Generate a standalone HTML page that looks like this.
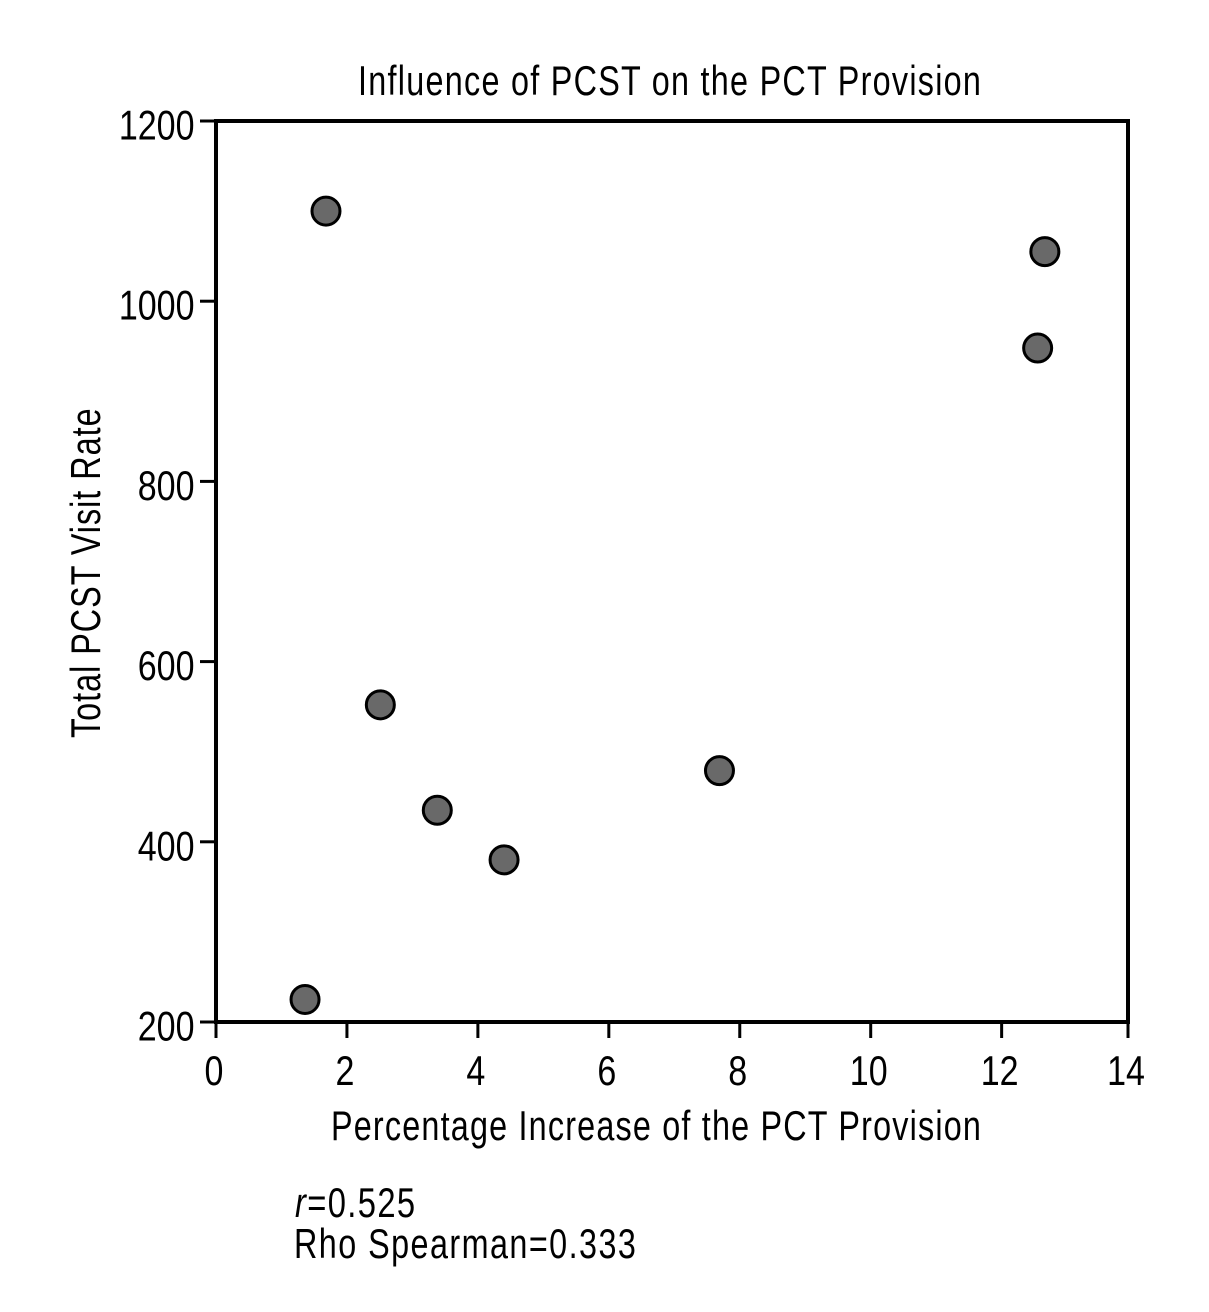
<!DOCTYPE html>
<html lang="en">
<head>
<meta charset="utf-8">
<title>Influence of PCST on the PCT Provision</title>
<style>
html,body{margin:0;padding:0;background:#fff;width:1209px;height:1312px;overflow:hidden}
svg{display:block}
text{font-family:"Liberation Sans",Arial,sans-serif;font-size:42px;fill:#000}
</style>
</head>
<body>
<svg id="chart" width="1209" height="1312" viewBox="0 0 1209 1312" xmlns="http://www.w3.org/2000/svg">
  <rect x="0" y="0" width="1209" height="1312" fill="#ffffff"/>
  <text transform="translate(358,95) scale(.77,1)" textLength="809" lengthAdjust="spacing">Influence of PCST on the PCT Provision</text>
  <rect x="216" y="121" width="912" height="901" fill="none" stroke="#000" stroke-width="4"/>
  <g id="y-ticks"></g>
  <g id="x-ticks"></g>
  <g id="points"></g>
  <text transform="translate(331,1140) scale(.77,1)" textLength="844" lengthAdjust="spacing">Percentage Increase of the PCT Provision</text>
  <text transform="translate(100,738) rotate(-90) scale(.77,1)" textLength="428" lengthAdjust="spacing">Total PCST Visit Rate</text>
  <text transform="translate(295,1217) scale(.78,1)" textLength="154" lengthAdjust="spacing"><tspan font-style="italic">r</tspan>=0.525</text>
  <text transform="translate(294,1258) scale(.77,1)" textLength="444" lengthAdjust="spacing">Rho Spearman=0.333</text>
</svg>
<script>
const xTickValues = [0, 2, 4, 6, 8, 10, 12, 14];
const yTickValues = [200, 400, 600, 800, 1000, 1200];
const xValues = [1.36, 1.68, 2.51, 3.38, 4.40, 7.69, 12.55, 12.66];
const yValues = [225, 1100, 552, 435, 380, 479, 948, 1055];

const NS = 'http://www.w3.org/2000/svg';
const plotLeft = 216, plotRight = 1128, plotTop = 121, plotBottom = 1022;
const yMin = 200, yMax = 1200;
const CONDENSE = 0.81;

function xScale(v) { return plotLeft + (v / 13.93) * (plotRight - plotLeft); }
function yScale(v) { return plotBottom - ((v - yMin) / (yMax - yMin)) * (plotBottom - plotTop); }
function xTickPos(v) { return Math.min(xScale(v), plotRight); }

const yGroup = document.getElementById('y-ticks');
yTickValues.forEach(function (v) {
  const y = yScale(v);
  const line = document.createElementNS(NS, 'line');
  
  
  line.setAttribute('x1', 200);
  line.setAttribute('x2', plotLeft);
  line.setAttribute('y1', y);
  line.setAttribute('y2', y);
  line.setAttribute('stroke', '#000');
  line.setAttribute('stroke-width', 3);
  yGroup.appendChild(line);
  const label = document.createElementNS(NS, 'text');
  
  
  label.setAttribute('text-anchor', 'end');
  label.setAttribute('transform', 'translate(194.5,' + (y + 18.5) + ') scale(' + CONDENSE + ',1)');
  label.textContent = String(v);
  yGroup.appendChild(label);
});

const xGroup = document.getElementById('x-ticks');
xTickValues.forEach(function (v) {
  const x = xTickPos(v);
  const line = document.createElementNS(NS, 'line');
  
  
  line.setAttribute('x1', x);
  line.setAttribute('x2', x);
  line.setAttribute('y1', plotBottom);
  line.setAttribute('y2', 1038);
  line.setAttribute('stroke', '#000');
  line.setAttribute('stroke-width', 3);
  xGroup.appendChild(line);
  const label = document.createElementNS(NS, 'text');
  
  
  label.setAttribute('text-anchor', 'middle');
  label.setAttribute('transform', 'translate(' + (x - 2) + ',1085) scale(' + CONDENSE + ',1)');
  label.textContent = String(v);
  xGroup.appendChild(label);
});

const pointGroup = document.getElementById('points');
xValues.forEach(function (v, i) {
  const dot = document.createElementNS(NS, 'circle');
  
  
  dot.setAttribute('cx', xScale(v));
  dot.setAttribute('cy', yScale(yValues[i]));
  dot.setAttribute('r', 14);
  dot.setAttribute('fill', '#696969');
  dot.setAttribute('stroke', '#000');
  dot.setAttribute('stroke-width', 3);
  pointGroup.appendChild(dot);
});
</script>
</body>
</html>
